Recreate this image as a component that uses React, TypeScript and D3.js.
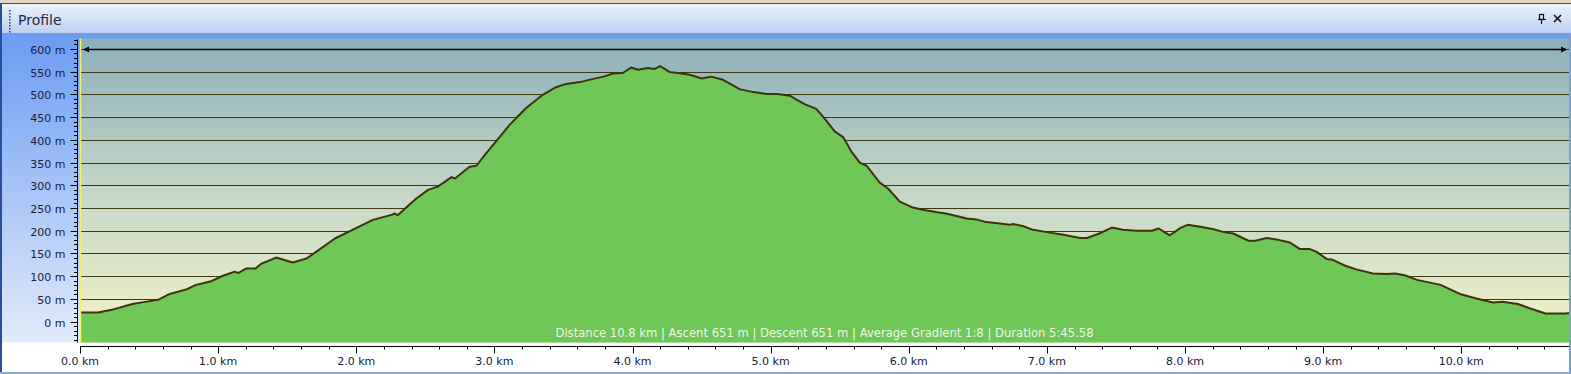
import React, { useEffect } from "react";
import * as d3 from "d3";

const distKm: number[] = [
  0, 0.13, 0.24, 0.38, 0.46, 0.565, 0.65, 0.77, 0.84, 0.95, 1.035, 1.12, 1.145, 1.205, 1.27, 1.31, 1.42, 1.54, 1.64,
  1.735, 1.845, 1.98, 2.12, 2.255, 2.28, 2.3, 2.39, 2.435, 2.52, 2.59, 2.69, 2.715, 2.82, 2.87, 2.94, 3.03, 3.11,
  3.23, 3.35, 3.44, 3.52, 3.62, 3.7, 3.79, 3.86, 3.93, 3.99, 4.04, 4.11, 4.16, 4.2, 4.27, 4.355, 4.415, 4.5, 4.57,
  4.655, 4.78, 4.86, 4.97, 5.05, 5.14, 5.19, 5.25, 5.33, 5.39, 5.465, 5.525, 5.585, 5.645, 5.695, 5.79, 5.85,
  5.935, 6.03, 6.1, 6.22, 6.27, 6.42, 6.49, 6.56, 6.66, 6.73, 6.755, 6.83, 6.9, 7.0, 7.12, 7.24, 7.29, 7.38, 7.47,
  7.55, 7.65, 7.76, 7.81, 7.89, 7.97, 8.02, 8.11, 8.2, 8.28, 8.35, 8.46, 8.51, 8.59, 8.66, 8.76, 8.83, 8.9, 8.95,
  9.025, 9.07, 9.16, 9.24, 9.36, 9.46, 9.52, 9.59, 9.68, 9.85, 9.92, 9.99, 10.11, 10.23, 10.3, 10.41, 10.5, 10.61,
  10.76, 10.78,
];
const elevM: number[] = [
  20, 20, 27, 39, 43, 48, 61, 71, 81, 89, 101, 110, 107, 117, 117, 127, 141, 130, 139,
  159, 183, 203, 224, 235, 238, 234, 259, 271, 290, 297, 318, 315, 341, 343, 370, 403, 433,
  470, 499, 515, 523, 527, 533, 539, 546, 547, 559, 554, 558, 556, 562, 549, 546, 543, 535, 539,
  532, 511, 506, 501, 501, 497, 488, 478, 468, 447, 418, 406, 374, 350, 343, 306, 293,
  264, 251, 246, 240, 238, 227, 225, 219, 216, 213, 215, 210, 202, 197, 191, 184, 184, 194, 207,
  202, 200, 200, 205, 190, 207, 213, 209, 204, 197, 194, 178, 178, 184, 181, 174, 160, 160, 154,
  138, 136, 123, 115, 106, 105, 106, 102, 92, 81, 71, 61, 51, 42, 44, 39, 29, 18,
  18, 19,
];
const yTickValues: number[] = [0, 50, 100, 150, 200, 250, 300, 350, 400, 450, 500, 550, 600];
const xTickValues: number[] = [0, 1, 2, 3, 4, 5, 6, 7, 8, 9, 10];
const titleText = "Profile";
const statsText =
  "Distance 10.8 km | Ascent 651 m | Descent 651 m | Average Gradient 1:8 | Duration 5:45.58";

const W = 1571;
const H = 374;
const PL = 80;
const PR = 1569;
const PT = 38.5;
const PB = 342.5;
const FONT = "'DejaVu Sans', Verdana, sans-serif";

export default function App() {
  useEffect(() => {
    document.body.style.margin = "0";
  }, []);

  const x = d3.scaleLinear().domain([0, 10.78]).range([PL, PR]);
  const y = d3.scaleLinear().domain([-45.8, 622.9]).range([PB, PT]);

  const pts: [number, number][] = distKm.map((d, i) => [d, elevM[i]]);
  const area = d3
    .area<[number, number]>()
    .x((d) => x(d[0]))
    .y0(PB)
    .y1((d) => y(d[1]))(pts) as string;
  const line = d3
    .line<[number, number]>()
    .x((d) => x(d[0]))
    .y((d) => y(d[1]))(pts) as string;

  const yMinor = d3.range(-40, 621, 10);
  const xMinor = d3.range(0, 10.79, 0.2);
  const dots = d3.range(10, 32, 3);
  const ay = Math.round(y(600)) + 0.5;

  return (
    <svg width={W} height={H} style={{ position: "absolute", left: 0, top: 0, display: "block" }} fontFamily={FONT}>
      <defs>
        <linearGradient id="titleG" x1="0" y1="0" x2="0" y2="1">
          <stop offset="0" stopColor="#eef3fd" />
          <stop offset="1" stopColor="#bcd0f0" />
        </linearGradient>
        <linearGradient id="panelG" x1="0" y1="0" x2="0" y2="1">
          <stop offset="0" stopColor="#6a9cf1" />
          <stop offset="1" stopColor="#e2ebfb" />
        </linearGradient>
        <linearGradient id="plotG" x1="0" y1="0" x2="0" y2="1">
          <stop offset="0" stopColor="#8bb0ba" />
          <stop offset="0.5" stopColor="#c3d6c6" />
          <stop offset="1" stopColor="#f4f4c6" />
        </linearGradient>
      </defs>

      <rect x={0} y={0} width={W} height={H} fill="#ffffff" />
      <rect x={0} y={0} width={W} height={3} fill="#e4d9c0" />
      <rect x={0} y={3} width={W} height={30} fill="url(#titleG)" />
      <line x1={0} x2={W} y1={3.5} y2={3.5} stroke="#2a4f9a" strokeWidth={1} />
      <rect x={2} y={33} width={PR - 2} height={PB - 33} fill="url(#panelG)" />

      {dots.map((d) => (
        <rect key={d} x={9} y={d} width={1.6} height={1.6} fill="#33548f" />
      ))}
      <text x={18} y={25} fontSize={14} fill="#1d2a44">
        {titleText}
      </text>
      <g stroke="#111" strokeWidth={1.2} fill="none">
        <rect x={1539.5} y={14.5} width={4} height={5} />
        <line x1={1538} x2={1546} y1={19.5} y2={19.5} />
        <line x1={1541.5} x2={1541.5} y1={20} y2={24} />
      </g>
      <g stroke="#111" strokeWidth={1.6}>
        <line x1={1554} y1={15} x2={1561} y2={22} />
        <line x1={1561} y1={15} x2={1554} y2={22} />
      </g>

      <rect x={PL} y={PT} width={PR - PL} height={PB - PT} fill="url(#plotG)" />
      {yTickValues.map((v) => (
        <line key={"g" + v} x1={PL} x2={PR} y1={Math.round(y(v)) + 0.5} y2={Math.round(y(v)) + 0.5} stroke="#3b3a14" strokeWidth={1} />
      ))}

      <path d={area} fill="#6fc758" />
      <path d={line} fill="none" stroke="#3a3608" strokeWidth={2} strokeLinejoin="round" />

      <line x1={PL + 0.5} x2={PL + 0.5} y1={PT} y2={PB} stroke="#f0f070" strokeWidth={1.5} />

      {/* measurement arrow */}
      <line x1={x(0) + 4} x2={x(10.78) - 3} y1={ay} y2={ay} stroke="#000" strokeWidth={1.5} />
      <path d={`M${x(0) + 3},${ay} l6,-3 l0,6 z`} fill="#000" />
      <path d={`M${x(10.78) - 2},${ay} l-6,-3 l0,6 z`} fill="#000" />

      <text x={(PL + PR) / 2} y={337} fontSize={11.6} fill="#eef6e6" textAnchor="middle">
        {statsText}
      </text>

      <line x1={77.5} x2={77.5} y1={PT + 1} y2={PB} stroke="#000" strokeWidth={1} />
      {yMinor.map((v) => (
        <line key={"ym" + v} x1={74} x2={78} y1={Math.round(y(v)) + 0.5} y2={Math.round(y(v)) + 0.5} stroke="#000" strokeWidth={1} />
      ))}
      {yTickValues.map((v) => (
        <g key={"yt" + v}>
          <line x1={70.5} x2={78} y1={Math.round(y(v)) + 0.5} y2={Math.round(y(v)) + 0.5} stroke="#000" strokeWidth={1} />
          <text x={65.5} y={y(v) + 5} fontSize={11} fill="#16203a" textAnchor="end">
            {`${v} m`}
          </text>
        </g>
      ))}

      <line x1={PL} x2={PR} y1={346.5} y2={346.5} stroke="#000" strokeWidth={1} />
      {xMinor.map((v) => (
        <line key={"xm" + v} x1={Math.round(x(v)) + 0.5} x2={Math.round(x(v)) + 0.5} y1={346} y2={349.5} stroke="#000" strokeWidth={1} />
      ))}
      {xTickValues.map((v) => (
        <g key={"xt" + v}>
          <line x1={Math.round(x(v)) + 0.5} x2={Math.round(x(v)) + 0.5} y1={346} y2={353.5} stroke="#000" strokeWidth={1} />
          <text x={x(v)} y={365} fontSize={11} fill="#16203a" textAnchor="middle">
            {`${v.toFixed(1)} km`}
          </text>
        </g>
      ))}

      <rect x={0} y={3} width={2} height={H - 3} fill="#2a4f9a" />
      <rect x={W - 2} y={33} width={2} height={H - 33} fill="#7f9fcf" />
      <rect x={0} y={H - 2} width={W} height={2} fill="#8fa7c8" />
    </svg>
  );
}
